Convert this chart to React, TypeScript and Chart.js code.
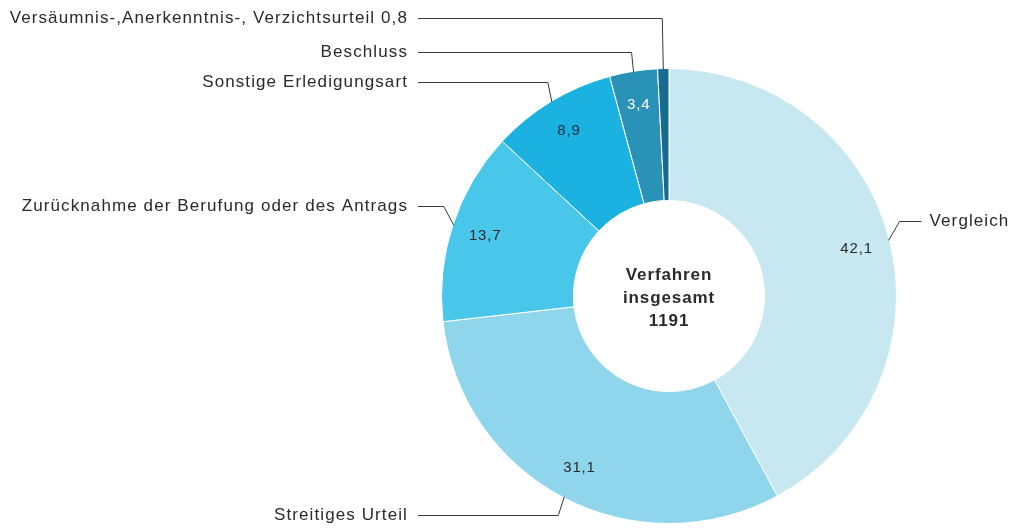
import React, { useEffect, useRef } from "react";
import { Chart, registerables } from "chart.js";

Chart.register(...registerables);

const categories: string[] = [
  "Vergleich",
  "Streitiges Urteil",
  "Zurücknahme der Berufung oder des Antrags",
  "Sonstige Erledigungsart",
  "Beschluss",
  "Versäumnis-,Anerkenntnis-, Verzichtsurteil",
];
const shares: number[] = [42.1, 31.1, 13.7, 8.9, 3.4, 0.8];
const sliceColors: string[] = ["#c7e8f0", "#8fd5ec", "#48c7ea", "#1bb1e1", "#2b92b7", "#176c8f"];
const centerLines: string[] = ["Verfahren", "insgesamt", "1191"];

const fmt = (v: number) => v.toFixed(1).replace(".", ",");

// layout of the outside labels (positions only)
const labelLayout = [
  { side: "right", y: 221, dx: 11 },
  { side: "left", y: 515, dx: -6 },
  { side: "left", y: 206, dx: -10 },
  { side: "left", y: 82, dx: -4 },
  { side: "left", y: 52, dx: -2 },
  { side: "left", y: 18, dx: -1 },
];
const innerLabelShown = [true, true, true, true, true, false];
const innerLabelColor = ["#2a2a2a", "#2a2a2a", "#2a2a2a", "#1f3340", "#ffffff", "#ffffff"];

const FONT = "'Liberation Sans', Arial, sans-serif";

const labelPlugin = {
  id: "doughnutLabels",
  afterDraw(chart: any) {
    const ctx = chart.ctx;
    const meta = chart.getDatasetMeta(0);
    ctx.save();
    meta.data.forEach((arc: any, i: number) => {
      const { x, y, startAngle, endAngle, outerRadius } = arc.getProps(
        ["x", "y", "startAngle", "endAngle", "innerRadius", "outerRadius"],
        true
      );
      const mid = (startAngle + endAngle) / 2;
      // inner value
      if (innerLabelShown[i]) {
        const r = outerRadius - 34;
        ctx.font = `15px ${FONT}`;
        (ctx as any).letterSpacing = "0.8px";
        ctx.fillStyle = innerLabelColor[i];
        ctx.textAlign = "center";
        ctx.textBaseline = "middle";
        ctx.fillText(fmt(shares[i]), x + r * Math.cos(mid), y + r * Math.sin(mid));
      }
      // leader line
      const lay = labelLayout[i];
      const px = x + (outerRadius - 1) * Math.cos(mid);
      const py = y + (outerRadius - 1) * Math.sin(mid);
      const ex = px + lay.dx;
      const ey = lay.y;
      ctx.strokeStyle = "#3a3a3a";
      ctx.lineWidth = 1;
      ctx.beginPath();
      ctx.moveTo(px, py);
      ctx.lineTo(ex, ey + 0.5);
      let text = categories[i];
      if (!innerLabelShown[i]) text += " " + fmt(shares[i]);
      ctx.font = `17px ${FONT}`;
      (ctx as any).letterSpacing = "1.1px";
      ctx.fillStyle = "#2a2a2a";
      ctx.textBaseline = "middle";
      if (lay.side === "right") {
        ctx.lineTo(ex + 22, ey + 0.5);
        ctx.stroke();
        ctx.textAlign = "left";
        ctx.fillText(text, ex + 30, ey);
      } else {
        ctx.lineTo(418, ey + 0.5);
        ctx.stroke();
        ctx.textAlign = "right";
        ctx.fillText(text, 408, ey);
      }
    });
    // center text
    const a0 = meta.data[0];
    ctx.font = `bold 17px ${FONT}`;
    (ctx as any).letterSpacing = "0.9px";
    ctx.fillStyle = "#2a2a2a";
    ctx.textAlign = "center";
    ctx.textBaseline = "middle";
    centerLines.forEach((t, k) => {
      ctx.fillText(t, a0.x, a0.y - 21 + k * 23);
    });
    ctx.restore();
  },
};

export default function App() {
  const ref = useRef<HTMLCanvasElement>(null);
  useEffect(() => {
    if (!ref.current) return;
    const chart = new Chart(ref.current, {
      type: "doughnut",
      data: {
        labels: categories,
        datasets: [
          {
            data: shares,
            backgroundColor: sliceColors,
            borderColor: "#ffffff",
            borderWidth: 1,
          },
        ],
      },
      options: {
        animation: false,
        responsive: true,
        maintainAspectRatio: false,
        cutout: "42%",
        layout: { padding: { top: 68, bottom: 4, left: 441, right: 116 } },
        plugins: {
          legend: { display: false },
          tooltip: { enabled: false },
        },
      },
      plugins: [labelPlugin],
    });
    return () => chart.destroy();
  }, []);
  return (
    <div style={{ position: "fixed", left: 0, top: 0, width: 1013, height: 528, background: "#fff" }}>
      <canvas ref={ref} />
    </div>
  );
}
